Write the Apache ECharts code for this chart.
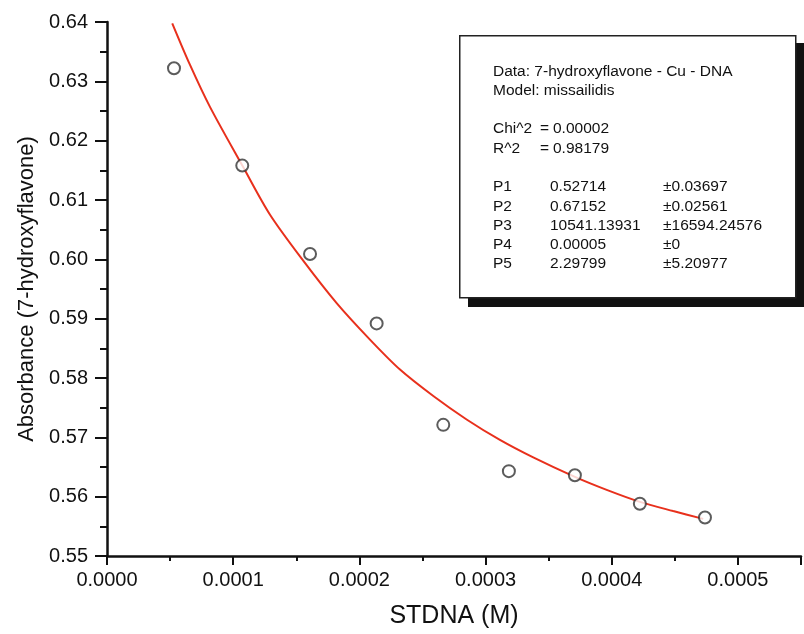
<!DOCTYPE html>
<html>
<head>
<meta charset="utf-8">
<script src="https://cdn.jsdelivr.net/npm/echarts@6/dist/echarts.min.js"></script>
<style>
html,body{margin:0;padding:0;background:#fff;}
#chart{width:804px;height:634px;}
</style>
</head>
<body>
<div id="chart"></div>
<script>
// Measured data points (STDNA concentration, M) and absorbance
const dataX = [0.0000531, 0.0001072, 0.0001609, 0.0002137, 0.0002665, 0.0003185, 0.0003708, 0.0004223, 0.0004739];
const dataY = [0.6322, 0.6158, 0.6009, 0.5892, 0.5721, 0.5643, 0.5636, 0.5588, 0.5565];
// Fitted curve, points
const fitX = [0.0000517, 0.0000658, 0.0000816, 0.0001078, 0.0001292, 0.0001555, 0.0001820, 0.0002084, 0.0002322, 0.0002586, 0.0002850, 0.0003114, 0.0003378, 0.0003708, 0.0003960, 0.0004223, 0.0004487, 0.0004725];
const fitY = [0.63978, 0.63276, 0.62569, 0.61559, 0.60751, 0.59977, 0.59262, 0.58647, 0.58142, 0.57696, 0.57301, 0.56956, 0.56661, 0.56333, 0.56114, 0.55912, 0.55757, 0.55626];
// Tick settings
const xTicks = {min: 0, max: 0.00055, interval: 0.0001};
const yTicks = {min: 0.55, max: 0.64, interval: 0.01};
// Fit report text
const infoHeader = ['Data: 7-hydroxyflavone - Cu - DNA', 'Model: missailidis'];
const statNames = ['Chi^2', 'R^2'];
const statValues = ['0.00002', '0.98179'];
const paramNames = ['P1', 'P2', 'P3', 'P4', 'P5'];
const paramValues = ['0.52714', '0.67152', '10541.13931', '0.00005', '2.29799'];
const paramErrors = ['\u00b10.03697', '\u00b10.02561', '\u00b116594.24576', '\u00b10', '\u00b15.20977'];

const FONT = "'Liberation Sans', Arial, sans-serif";
const chart = echarts.init(document.getElementById('chart'), null, {renderer: 'canvas'});

const scatterData = dataX.map((x, i) => [x, dataY[i]]);
const fitData = fitX.map((x, i) => [x, fitY[i]]);

const txt = (x, y, s) => ({type: 'text', left: x, top: y - 8, z: 102,
  style: {text: s, fontFamily: FONT, fontSize: 15.5, fill: '#111'}});
const graphics = [
  {type: 'rect', left: 468, top: 43, z: 100, shape: {width: 336, height: 264}, style: {fill: '#111'}},
  {type: 'rect', left: 459, top: 35, z: 101, shape: {width: 336, height: 262}, style: {fill: '#fff', stroke: '#222', lineWidth: 1.5}}
];
const tx0 = 493, tx1 = 540, tx2 = 550, tx3 = 663;
graphics.push(txt(tx0, 72, infoHeader[0]));
graphics.push(txt(tx0, 91, infoHeader[1]));
statNames.forEach((n, i) => {
  const y = 129 + i * 19.3;
  graphics.push(txt(tx0, y, n));
  graphics.push(txt(tx1, y, '='));
  graphics.push(txt(tx2 + 3, y, statValues[i]));
});
paramNames.forEach((n, i) => {
  const y = 187 + i * 19.3;
  graphics.push(txt(tx0, y, n));
  graphics.push(txt(tx2, y, paramValues[i]));
  graphics.push(txt(tx3, y, paramErrors[i]));
});

chart.setOption({
  animation: false,
  backgroundColor: '#fff',
  grid: {left: 107, right: 3, top: 22, bottom: 77},
  xAxis: {
    type: 'value', min: xTicks.min, max: xTicks.max, interval: xTicks.interval,
    name: 'STDNA (M)', nameLocation: 'middle', nameGap: 48,
    nameTextStyle: {fontFamily: FONT, fontSize: 25, color: '#111'},
    axisLine: {show: true, onZero: false, lineStyle: {color: '#111', width: 2.5}},
    axisTick: {show: true, inside: false, length: 9, lineStyle: {color: '#111', width: 2}},
    minorTick: {show: true, splitNumber: 2, length: 5, lineStyle: {color: '#111', width: 2}},
    splitLine: {show: false},
    axisLabel: {fontFamily: FONT, fontSize: 20, color: '#111', margin: 14, showMaxLabel: false,
      formatter: v => v.toFixed(4)}
  },
  yAxis: {
    type: 'value', min: yTicks.min, max: yTicks.max, interval: yTicks.interval,
    name: 'Absorbance (7-hydroxyflavone)', nameLocation: 'middle', nameGap: 66,
    nameTextStyle: {fontFamily: FONT, fontSize: 22, color: '#111'},
    axisLine: {show: true, onZero: false, lineStyle: {color: '#111', width: 2.5}},
    axisTick: {show: true, inside: false, length: 12, lineStyle: {color: '#111', width: 2}},
    minorTick: {show: true, splitNumber: 2, length: 7, lineStyle: {color: '#111', width: 2}},
    splitLine: {show: false},
    axisLabel: {fontFamily: FONT, fontSize: 20, color: '#111', margin: 19,
      formatter: v => v.toFixed(2)}
  },
  graphic: graphics,
  series: [
    {type: 'line', data: fitData, smooth: 0.3, showSymbol: false, z: 2,
      lineStyle: {color: '#e8301c', width: 2}},
    {type: 'scatter', data: scatterData, symbol: 'circle', symbolSize: 12, z: 3,
      itemStyle: {color: '#fff', borderColor: '#333', borderWidth: 2}}
  ]
});
</script>
</body>
</html>
